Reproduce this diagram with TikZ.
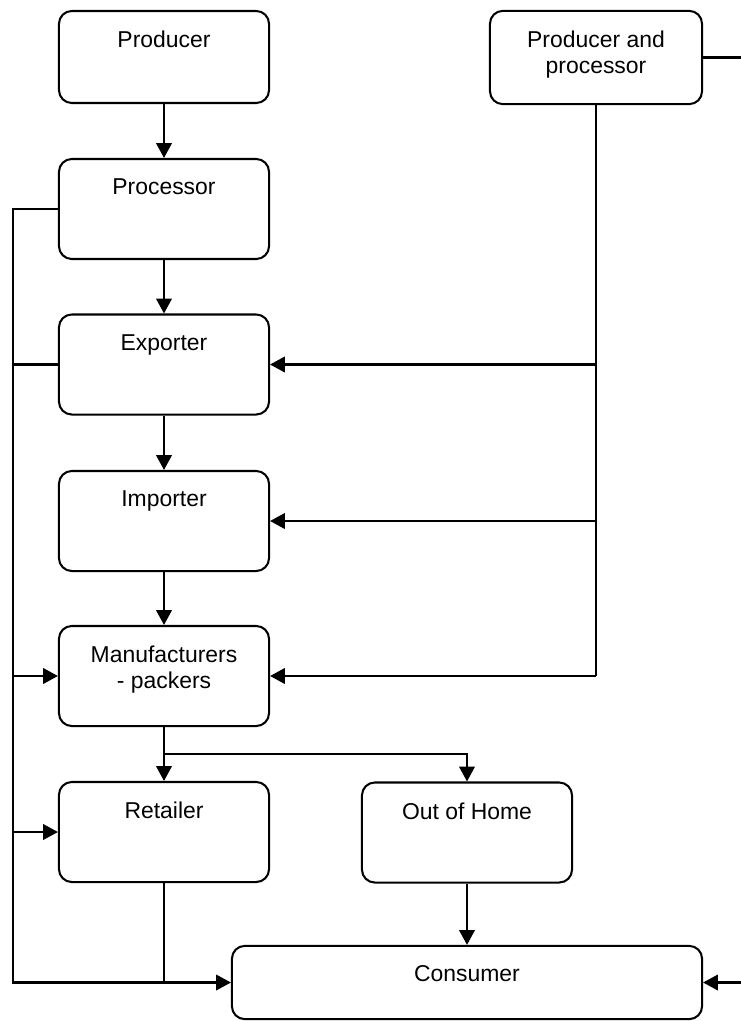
\documentclass[tikz,border=0pt]{standalone}
\usepackage{fontspec}
\setmainfont{Liberation Sans}
\usetikzlibrary{arrows.meta}
\begin{document}
\begin{tikzpicture}[x=0.025cm,y=-0.025cm,line width=1.45pt,
    box/.style={draw,rounded corners=0.32cm,minimum width=5.25cm,minimum height=2.5cm,inner sep=0pt},
    lbl/.style={anchor=north,inner sep=0pt,yshift=-0.5cm,align=center,
      font=\fontsize{16.3pt}{18.5pt}\selectfont},
    arr/.style={-{Triangle[length=10.5pt,width=11pt]}}]
  \useasboundingbox (0,0) rectangle (741,1021);

  % left column
  \node[box,minimum height=2.3cm] (prod) at (164,57) [label={[lbl]north:Producer}] {};
  \node[box] (proc) at (164,209) [label={[lbl]north:Processor}] {};
  \node[box] (exp) at (164,364.5) [label={[lbl]north:Exporter}] {};
  \node[box] (imp) at (164,521) [label={[lbl]north:Importer}] {};
  \node[box] (man) at (164,676) [label={[lbl]north:{Manufacturers\\- packers}}] {};
  \node[box] (ret) at (164,832) [label={[lbl]north:Retailer}] {};

  % right side
  \node[box,minimum width=5.3cm,minimum height=2.33cm] (pp) at (596,57.5)
    [label={[lbl]north:{Producer and\\processor}}] {};
  \node[box] (ooh) at (467,832.5) [label={[lbl]north:Out of Home}] {};
  \node[box,minimum width=11.75cm,minimum height=1.83cm] (cons) at (467,982.5)
    [label={[lbl]north:Consumer}] {};

  \coordinate (lbus) at (13,0);
  \coordinate (rbus) at (746,0);
  \coordinate (split) at (164,754);

  % main chain
  \draw[arr] (prod) -- (proc);
  \draw[arr] (proc) -- (exp);
  \draw[arr] (exp) -- (imp);
  \draw[arr] (imp) -- (man);
  \draw[arr] (man) -- (ret);
  \draw[arr] (split) -| (ooh);
  \draw[arr] (ooh) -- (ooh |- cons.north);
  \draw (ret.south) -- (ret.south |- cons.west);

  % left bus
  \draw[arr] (proc.west) -- (proc.west -| lbus) |- (cons.west);
  \draw (exp.west) -- (exp.west -| lbus);
  \draw[arr] (man.west -| lbus) -- (man.west);
  \draw[arr] (ret.west -| lbus) -- (ret.west);

  % producer and processor
  \draw (pp.south) -- (pp.south |- man.east);
  \draw[arr] (pp.south |- exp.east) -- (exp.east);
  \draw[arr] (pp.south |- imp.east) -- (imp.east);
  \draw[arr] (pp.south |- man.east) -- (man.east);
  \draw[arr] (pp.east) -- (pp.east -| rbus) |- (cons.east);
\end{tikzpicture}
\end{document}
